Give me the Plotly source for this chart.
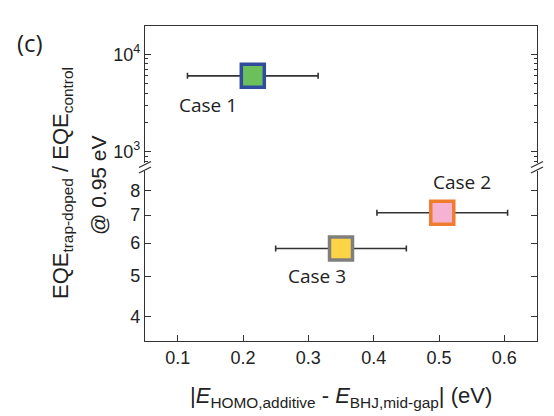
import plotly.graph_objects as go

# ---- data ----
cases = ["Case 1", "Case 2", "Case 3"]
x_vals = [0.215, 0.505, 0.35]
x_err = [0.10, 0.10, 0.10]
y_vals = [6000, 7.09, 5.82]
fill_colors = ["#6cc05c", "#f5b3d3", "#fdd445"]
edge_colors = ["#2f4c9e", "#f07c2e", "#7f7f7f"]
x_ticks = [0.1, 0.2, 0.3, 0.4, 0.5, 0.6]
y_low_ticks = [4, 5, 6, 7, 8]
y_high_ticks = [1000, 10000]
y_high_text = ["10<sup>3</sup>", "10<sup>4</sup>"]
y_high_minor = [800, 900, 2000, 3000, 4000, 5000, 6000, 7000, 8000, 9000]

W, H = 554, 416
L, R, T, B = 145, 537, 26, 341
def px(x):
    return (x - L) / (R - L)
def py(y):
    return (B - y) / (B - T)

upper_dom = [py(163), 1.0]
lower_dom = [0.0, py(171)]

fig = go.Figure()
for i, c in enumerate(cases):
    ya = "y2" if y_vals[i] > 100 else "y"
    fig.add_trace(go.Scatter(
        x=[x_vals[i]], y=[y_vals[i]], xaxis="x", yaxis=ya,
        mode="markers",
        marker=dict(symbol="square", size=23, color=fill_colors[i],
                    line=dict(color=edge_colors[i], width=3.5)),
        error_x=dict(type="data", array=[x_err[i]], color="#333333",
                     thickness=1.6, width=3),
        showlegend=False, name=c))

axis_font = dict(family="Liberation Sans, Arial, sans-serif", size=18, color="#222222")
common_y = dict(type="log", showline=True, linecolor="#333333", linewidth=1.3,
                mirror="ticks", ticks="inside", ticklen=6, tickwidth=1.2,
                tickcolor="#333333", showgrid=False, zeroline=False,
                tickfont=axis_font)

fig.update_layout(
    width=W, height=H,
    margin=dict(l=L, r=W - R, t=T, b=H - B),
    paper_bgcolor="white", plot_bgcolor="white",
    xaxis=dict(range=[0.05, 0.65], tickvals=x_ticks, ticktext=[str(v) for v in x_ticks],
               showline=True, linecolor="#333333", linewidth=1.3, ticks="inside",
               ticklen=6, tickwidth=1.2, tickcolor="#333333", showgrid=False,
               zeroline=False, anchor="y", tickfont=axis_font, mirror=False),
    xaxis2=dict(range=[0.05, 0.65], overlaying="x", anchor="y2", side="top",
                showline=True, linecolor="#333333", linewidth=1.3, ticks="",
                showticklabels=False, showgrid=False, zeroline=False),
    yaxis=dict(domain=lower_dom, range=[0.543, 0.951], tickvals=y_low_ticks,
               ticktext=[str(v) for v in y_low_ticks], anchor="x", **common_y),
    yaxis2=dict(domain=upper_dom, range=[2.884, 4.29], tickvals=y_high_ticks,
                ticktext=y_high_text, anchor="x",
                minor=dict(tickmode="array", tickvals=y_high_minor, ticks="inside",
                           ticklen=3, tickwidth=1, tickcolor="#333333", showgrid=False),
                **common_y),
)
# dummy trace to activate xaxis2
fig.add_trace(go.Scatter(x=[None], y=[None], xaxis="x2", yaxis="y2", showlegend=False))

label_font = dict(family="Open Sans, sans-serif", size=19, color="#222222")
label_pos = [(208, 105), (462, 182), (317, 276)]
for c, (lx, ly) in zip(cases, label_pos):
    fig.add_annotation(x=px(lx), y=py(ly), xref="paper", yref="paper", text=c,
                       showarrow=False, font=label_font, xanchor="center", yanchor="middle")

# axis titles
title_font = dict(family="Liberation Sans, Arial, sans-serif", size=22, color="#222222")
fig.add_annotation(x=px(341), y=py(397), xref="paper", yref="paper",
                   text="|<i>E</i><sub>HOMO,additive</sub> - <i>E</i><sub>BHJ,mid-gap</sub>| (eV)",
                   showarrow=False, font=title_font, xanchor="center", yanchor="middle")
fig.add_annotation(x=px(62), y=py(183), xref="paper", yref="paper",
                   text="EQE<sub>trap-doped</sub> / EQE<sub>control</sub>", textangle=-90,
                   showarrow=False, font=dict(title_font, size=22), xanchor="center", yanchor="middle")
fig.add_annotation(x=px(98), y=py(185), xref="paper", yref="paper",
                   text="@ 0.95 eV", textangle=-90,
                   showarrow=False, font=dict(title_font, size=21), xanchor="center", yanchor="middle")
fig.add_annotation(x=px(30), y=py(42), xref="paper", yref="paper", text="(c)",
                   showarrow=False, font=dict(family="Open Sans, sans-serif", size=24, color="#222222"),
                   xanchor="center", yanchor="middle")

# axis break marks
for xc in (L, R):
    for yc in (164.5, 170):
        fig.add_shape(type="line", xref="paper", yref="paper",
                      x0=px(xc - 6), y0=py(yc + 3), x1=px(xc + 6), y1=py(yc - 3),
                      line=dict(color="#333333", width=1.3))

fig.write_html("out.html", config={"displayModeBar": False},
               post_script="document.body.style.margin='0px';")
